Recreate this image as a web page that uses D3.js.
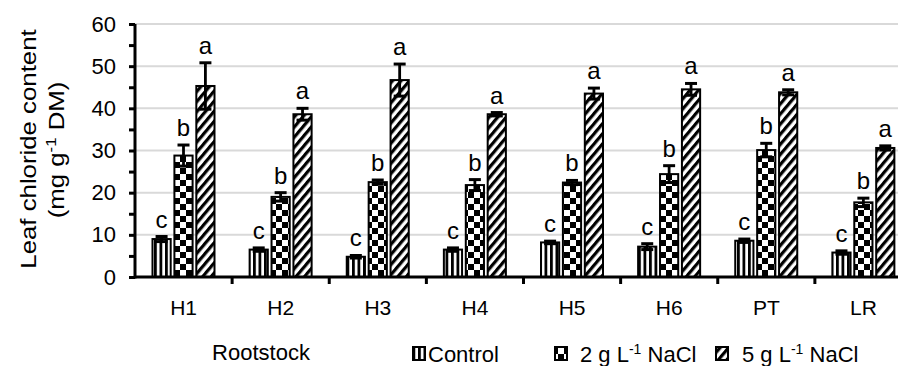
<!DOCTYPE html>
<html lang="en">
<head>
<meta charset="UTF-8">
<title>chart</title>
<style>
  body { margin: 0; background: #fff; }
  text { font-family: Arial, "Liberation Sans", sans-serif; fill: #000; }
</style>
</head>
<body>
<script src="https://d3js.org/d3.v7.min.js"></script>
<script>
// data
const categories = ['H1', 'H2', 'H3', 'H4', 'H5', 'H6', 'PT', 'LR'];
const seriesNames = ['Control', '2 g L-1 NaCl', '5 g L-1 NaCl'];
const controlVals = [9.0, 6.5, 4.8, 6.5, 8.2, 7.2, 8.6, 5.8];
const controlErr  = [0.6, 0.4, 0.3, 0.4, 0.3, 0.7, 0.4, 0.4];
const salt2Vals   = [28.8, 19.0, 22.5, 21.8, 22.4, 24.4, 30.1, 17.7];
const salt2Err    = [2.5, 1.0, 0.5, 1.3, 0.5, 2.0, 1.6, 1.0];
const salt5Vals   = [45.3, 38.6, 46.7, 38.6, 43.5, 44.5, 43.8, 30.6];
const salt5Err    = [5.5, 1.4, 3.8, 0.4, 1.3, 1.4, 0.6, 0.5];
const controlLetters = ['c', 'c', 'c', 'c', 'c', 'c', 'c', 'c'];
const salt2Letters   = ['b', 'b', 'b', 'b', 'b', 'b', 'b', 'b'];
const salt5Letters   = ['a', 'a', 'a', 'a', 'a', 'a', 'a', 'a'];
const yTicks = [0, 5, 10, 15, 20, 25, 30, 35, 40, 45, 50, 55, 60];

const width = 898, height = 366;
const svg = d3.select('body').append('svg')
  .attr('width', width).attr('height', height);

// patterns
const defs = svg.append('defs');
const pv = defs.append('pattern').attr('id', 'pat0')
  .attr('patternUnits', 'userSpaceOnUse').attr('width', 5.5).attr('height', 10);
pv.append('rect').attr('width', 5.5).attr('height', 10).attr('fill', '#fff');
pv.append('rect').attr('x', 0).attr('width', 2.8).attr('height', 10).attr('fill', '#000');

const pc = defs.append('pattern').attr('id', 'pat1')
  .attr('patternUnits', 'userSpaceOnUse').attr('width', 12).attr('height', 12);
pc.append('rect').attr('width', 12).attr('height', 12).attr('fill', '#fff');
pc.append('rect').attr('width', 6).attr('height', 6).attr('fill', '#000');
pc.append('rect').attr('x', 6).attr('y', 6).attr('width', 6).attr('height', 6).attr('fill', '#000');

const pd = defs.append('pattern').attr('id', 'pat2')
  .attr('patternUnits', 'userSpaceOnUse').attr('width', 6.5).attr('height', 10)
  .attr('patternTransform', 'rotate(40)');
pd.append('rect').attr('width', 6.5).attr('height', 10).attr('fill', '#fff');
pd.append('rect').attr('width', 3.2).attr('height', 10).attr('fill', '#000');

// scales
const x0 = d3.scaleBand().domain(categories).range([135, 912]);
const x1 = d3.scaleBand().domain(seriesNames).range([17.5, 79.5]).paddingInner(0.17);
const y = d3.scaleLinear().domain([0, 60]).range([277, 24]);

// gridlines
svg.append('g').selectAll('line')
  .data(yTicks.filter(d => d > 0 && d % 10 === 0))
  .join('line')
  .attr('x1', 135).attr('x2', width)
  .attr('y1', d => y(d)).attr('y2', d => y(d))
  .attr('stroke', '#d9d9d9').attr('stroke-width', 2);

// bars
const series = [
  { name: seriesNames[0], vals: controlVals, err: controlErr, letters: controlLetters, fill: 'url(#pat0)' },
  { name: seriesNames[1], vals: salt2Vals, err: salt2Err, letters: salt2Letters, fill: 'url(#pat1)' },
  { name: seriesNames[2], vals: salt5Vals, err: salt5Err, letters: salt5Letters, fill: 'url(#pat2)' }
];
const rows = [];
series.forEach(s => {
  categories.forEach((c, i) => {
    rows.push({ cat: c, name: s.name, v: s.vals[i], e: s.err[i], letter: s.letters[i], fill: s.fill });
  });
});
const bx = d => x0(d.cat) + x1(d.name);
const bw = x1.bandwidth();

svg.append('g').selectAll('rect')
  .data(rows).join('rect')
  .attr('x', bx).attr('y', d => y(d.v))
  .attr('width', bw).attr('height', d => y(0) - y(d.v))
  .attr('fill', d => d.fill)
  .attr('stroke', '#000').attr('stroke-width', 2);

// error bars
const eb = svg.append('g').attr('stroke', '#000').attr('stroke-width', 2.8);
eb.selectAll('line.v').data(rows).join('line').attr('class', 'v')
  .attr('x1', d => bx(d) + bw / 2).attr('x2', d => bx(d) + bw / 2)
  .attr('y1', d => y(d.v - d.e)).attr('y2', d => y(d.v + d.e));
eb.selectAll('line.cap').data(rows).join('line').attr('class', 'cap')
  .attr('x1', d => bx(d) + bw / 2 - 6).attr('x2', d => bx(d) + bw / 2 + 6)
  .attr('y1', d => y(d.v + d.e)).attr('y2', d => y(d.v + d.e))
  .attr('stroke-width', 3);
eb.selectAll('line.capb').data(rows).join('line').attr('class', 'capb')
  .attr('x1', d => bx(d) + bw / 2 - 6).attr('x2', d => bx(d) + bw / 2 + 6)
  .attr('y1', d => y(d.v - d.e)).attr('y2', d => y(d.v - d.e))
  .attr('stroke-width', 3);

// significance letters
svg.append('g').selectAll('text')
  .data(rows).join('text')
  .attr('x', d => bx(d) + bw / 2)
  .attr('y', d => y(d.v + d.e) - 9)
  .attr('text-anchor', 'middle')
  .attr('font-size', 24)
  .text(d => d.letter);

// y axis
const yAxis = svg.append('g').attr('transform', 'translate(135,0)')
  .call(d3.axisLeft(y).tickValues(yTicks).tickSize(6).tickPadding(13)
    .tickFormat(d => d % 10 === 0 ? d : ''));
yAxis.select('.domain').attr('stroke-width', 3).attr('d', 'M0,' + y(60) + 'V' + (y(0) + 1.5));
yAxis.selectAll('.tick line').attr('stroke-width', 3);
yAxis.selectAll('.tick text').attr('font-size', 22).attr('font-family', 'Arial, "Liberation Sans", sans-serif');

// x axis
const xAxis = svg.append('g').attr('transform', 'translate(0,' + y(0) + ')')
  .call(d3.axisBottom(x0).tickSize(0).tickPadding(23));
xAxis.select('.domain').attr('stroke-width', 3).attr('d', 'M134,0H' + width);
xAxis.selectAll('.tick text').attr('font-size', 21).attr('font-family', 'Arial, "Liberation Sans", sans-serif');
xAxis.selectAll('line.bound')
  .data(categories.slice(1)).join('line').attr('class', 'bound')
  .attr('x1', d => x0(d)).attr('x2', d => x0(d))
  .attr('y1', 0).attr('y2', 7)
  .attr('stroke', '#000').attr('stroke-width', 3);

// y title
const yt = svg.append('g').attr('transform', 'translate(36,149) rotate(-90) scale(1.2,1)');
yt.append('text').attr('text-anchor', 'middle').attr('font-size', 21.5)
  .text('Leaf chloride content');
const yt2 = svg.append('g').attr('transform', 'translate(64,150) rotate(-90) scale(1.2,1)');
const t2 = yt2.append('text').attr('text-anchor', 'middle').attr('font-size', 21.5);
t2.append('tspan').text('(mg g');
t2.append('tspan').attr('font-size', 14).attr('dy', -8).text('-1');
t2.append('tspan').attr('dy', 8).text(' DM)');

// x title
svg.append('text').attr('x', 261).attr('y', 360)
  .attr('text-anchor', 'middle').attr('font-size', 22).text('Rootstock');

// legend
const legendItems = [
  { x: 413, tx: 428, fill: 'url(#pat0)', main: 'Control' },
  { x: 555, tx: 580, fill: 'url(#pat1)', main: '2 g L', sup: '-1', tail: ' NaCl' },
  { x: 716, tx: 742, fill: 'url(#pat2)', main: '5 g L', sup: '-1', tail: ' NaCl' }
];
const lg = svg.append('g');
legendItems.forEach(it => {
  lg.append('rect').attr('x', it.x).attr('y', 347).attr('width', 12).attr('height', 13)
    .attr('fill', it.fill).attr('stroke', '#000').attr('stroke-width', 2);
  const t = lg.append('text').attr('x', it.tx).attr('y', 362).attr('font-size', 22);
  t.append('tspan').text(it.main);
  if (it.sup) {
    t.append('tspan').attr('font-size', 14).attr('dy', -8).text(it.sup);
    t.append('tspan').attr('dy', 8).text(it.tail);
  }
});
</script>
</body>
</html>
